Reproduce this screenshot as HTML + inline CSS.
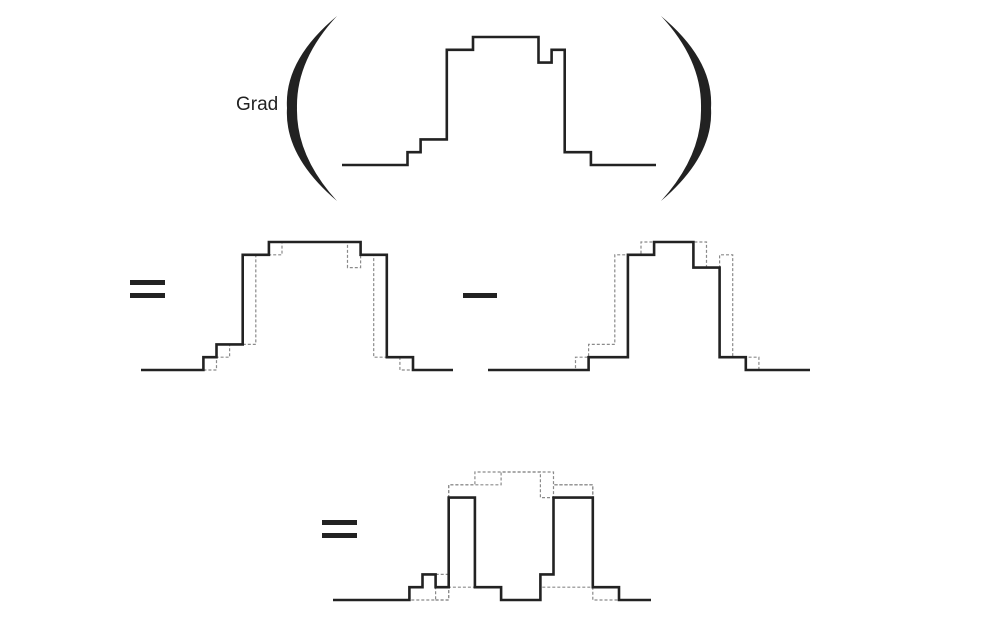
<!DOCTYPE html>
<html><head><meta charset="utf-8"><style>
html,body{margin:0;padding:0;background:#fff;}
svg{display:block;}
</style></head><body>
<svg id="fig" width="982" height="620" viewBox="0 0 982 620" xmlns="http://www.w3.org/2000/svg">
<text x="236" y="110" font-family="Liberation Sans, sans-serif" font-size="19" fill="#222">Grad</text>
<path d="M337,16 Q284,60 287,108 Q284,156 337,201 Q296,156 297,108 Q296,60 337,16 Z" fill="#222"/>
<path d="M661,16 Q714,60 711,108 Q714,156 661,201 Q702,156 701,108 Q702,60 661,16 Z" fill="#222"/>
<rect x="130" y="280" width="35" height="5" fill="#222"/>
<rect x="130" y="293" width="35" height="5" fill="#222"/>
<rect x="463" y="293" width="34" height="5" fill="#222"/>
<rect x="322" y="520" width="35" height="5" fill="#222"/>
<rect x="322" y="533" width="35" height="5" fill="#222"/>
<g id="layer"></g>
</svg>
<script>
// signal values per cell (levels)
const signalF = [0,0,0,0,0,1,2,2,9,9,10,10,10,10,10,8,9,1,1,0,0,0,0,0];
const dilation = [0,0,0,0,1,2,2,9,9,10,10,10,10,10,10,10,9,9,1,1,0,0,0,0];
const erosion = [0,0,0,0,0,0,1,1,1,9,9,10,10,10,8,8,1,1,0,0,0,0,0,0];
const gradient = [0,0,0,0,1,2,1,8,8,1,1,0,0,0,2,8,8,8,1,1,0,0];
const gradDotA = [0,0,0,0,0,0,2,1,1,1,1,0,0,0,1,1,1,1,0,0,0,0];
const gradDotB = [0,0,0,0,0,0,0,9,9,10,10,10,10,10,8,9,9,9,1,1,0,0];
const gradDotC = [0,0,0,0,0,0,0,9,9,9,9,10,10,10,10,9,9,9,1,1,0,0];

const W = 13.1, H = 12.8;
const layer = document.getElementById('layer');
const NS = 'http://www.w3.org/2000/svg';
function xScale(x0, i){ return x0 + i*W; }
function yScale(base, v){ return base - v*H; }
function stepD(vals, x0, base, xStart, xEnd, i0, i1){
  i0 = i0 || 0; i1 = (i1 === undefined) ? vals.length : i1;
  let d = '';
  let first = true;
  if (xStart !== null) { d += 'M' + xStart + ',' + yScale(base, vals[i0]); first = false; }
  for (let i = i0; i < i1; i++){
    const xa = xScale(x0, i), xb = xScale(x0, i+1), y = yScale(base, vals[i]);
    if (first){ d += 'M' + xa + ',' + y; first = false; }
    else d += 'L' + xa + ',' + y;
    d += 'L' + (i === i1-1 && xEnd !== null ? xEnd : xb) + ',' + y;
  }
  return d;
}
function addPath(d, name, dotted){
  const p = document.createElementNS(NS, 'path');
  p.setAttribute('d', d);
  p.setAttribute('fill', 'none');
  if (dotted){ p.setAttribute('stroke', '#8a8a8a'); p.setAttribute('stroke-width', '1.2'); p.setAttribute('stroke-dasharray', '3,2'); }
  else { p.setAttribute('stroke', '#222'); p.setAttribute('stroke-width', '2.6'); }
  
  
  layer.appendChild(p);
}
// top: original signal
addPath(stepD(signalF, 342, 165, 343, 656, 0, 24), 'original-signal', false);
// middle left: dilation with original dotted
addPath(stepD(signalF, 151, 370, null, null, 4, 21), 'dilation-reference-signal', true);
addPath(stepD(dilation, 151, 370, 141, 453, 0, 23), 'dilation-signal', false);
// middle right: erosion with original dotted
addPath(stepD(signalF, 510, 370, null, null, 4, 21), 'erosion-reference-signal', true);
addPath(stepD(erosion, 510, 370, 488, 810, 0, 23), 'erosion-signal', false);
// bottom: gradient
addPath(stepD(gradDotA, 357, 600, null, null, 3, 21), 'gradient-reference-lower', true);
addPath(stepD(gradDotB, 357, 600, null, null, 6, 20), 'gradient-reference-upper-a', true);
addPath(stepD(gradDotC, 357, 600, null, null, 6, 20), 'gradient-reference-upper-b', true);
addPath(stepD(gradient, 357, 600, 333, 651, 0, 22), 'gradient-signal', false);
</script>
</body></html>
